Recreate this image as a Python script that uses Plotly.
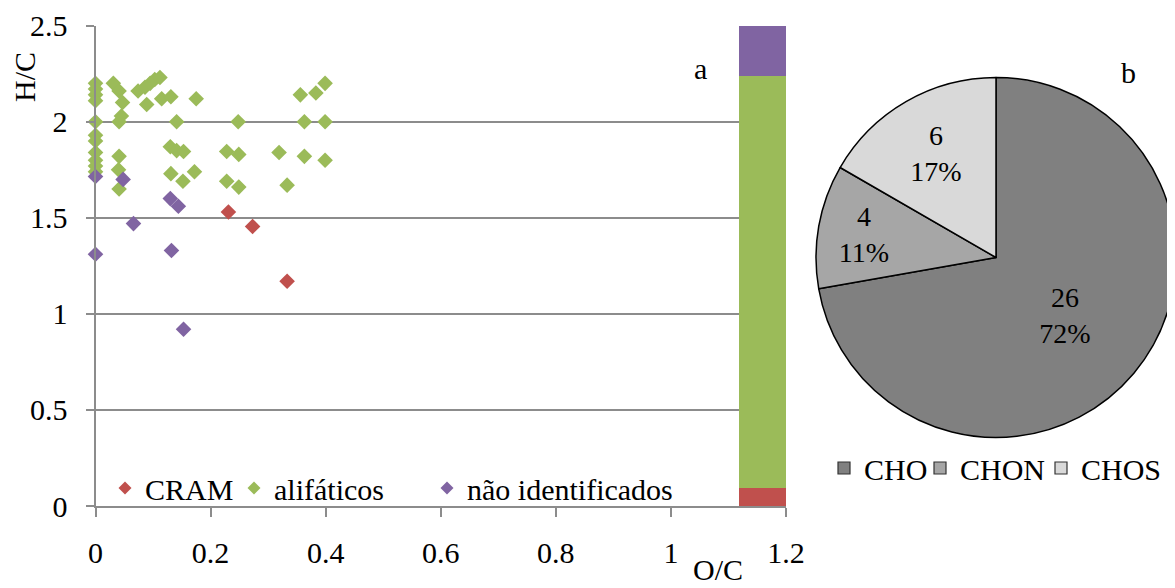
import plotly.graph_objects as go

# ---- data ----
cram_x = [0.231, 0.273, 0.333]
cram_y = [1.53, 1.455, 1.17]

ali_x = [0, 0, 0, 0, 0, 0, 0, 0, 0, 0, 0,
         0.031, 0.041, 0.047, 0.045, 0.041, 0.041, 0.040, 0.041,
         0.074, 0.086, 0.095, 0.103, 0.112, 0.089, 0.115, 0.131, 0.175,
         0.141, 0.248, 0.356, 0.383, 0.399, 0.363, 0.399,
         0.130, 0.141, 0.153, 0.228, 0.249, 0.319, 0.363, 0.399,
         0.131, 0.172, 0.152, 0.228, 0.249, 0.333]
ali_y = [2.20, 2.17, 2.14, 2.11, 2.00, 1.93, 1.90, 1.84, 1.80, 1.77, 1.74,
         2.20, 2.16, 2.10, 2.03, 2.00, 1.82, 1.75, 1.65,
         2.16, 2.18, 2.20, 2.22, 2.23, 2.09, 2.12, 2.13, 2.12,
         2.00, 2.00, 2.14, 2.15, 2.20, 2.00, 2.00,
         1.87, 1.85, 1.845, 1.845, 1.83, 1.84, 1.82, 1.80,
         1.73, 1.74, 1.69, 1.69, 1.66, 1.67]

ni_x = [0, 0.048, 0.130, 0.144, 0.066, 0, 0.132, 0.153]
ni_y = [1.715, 1.70, 1.60, 1.56, 1.47, 1.31, 1.33, 0.92]

series_names = ["CRAM", "alifáticos", "não identificados"]
series_colors = ["#C0504D", "#9BBB59", "#8064A2"]
bar_x = 1.159
bar_values = [0.095, 2.145, 0.26]

pie_labels = ["CHO", "CHON", "CHOS"]
pie_values = [26, 4, 6]
pie_colors = ["#808080", "#A6A6A6", "#D9D9D9"]

x_ticks = [0, 0.2, 0.4, 0.6, 0.8, 1, 1.2]
y_ticks = [0, 0.5, 1, 1.5, 2, 2.5]

FONT = "Liberation Serif"
FS = 30
GRID = "#8C8C8C"

W, H = 1175, 588
OFF = 8  # page body margin


def px(p):
    return (p - OFF) / W


def py(p):
    return 1 - (p - OFF) / H


fig = go.Figure()

# stacked bar at the right of panel a
for name, col, v in zip(series_names, series_colors, bar_values):
    fig.add_trace(go.Bar(x=[bar_x], y=[v], width=0.082, marker=dict(color=col, line=dict(width=0)),
                         showlegend=False, hoverinfo="skip"))

# scatter points, each series with its own legend box
sc_legends = ["legend", "legend3", "legend4"]
sc_legend_left = [105, 234, 427]
for xs, ys, name, col, lid in zip([cram_x, ali_x, ni_x], [cram_y, ali_y, ni_y], series_names,
                                  series_colors, sc_legends):
    fig.add_trace(go.Scatter(x=xs, y=ys, mode="markers", name=name, showlegend=False, cliponaxis=False,
                             marker=dict(symbol="diamond", size=12, color=col, line=dict(width=0))))
    fig.add_trace(go.Scatter(x=[None], y=[None], mode="markers", name=name, showlegend=True,
                             legend=lid,
                             marker=dict(symbol="diamond", size=10, color=col, line=dict(width=0))))

fig.update_layout(barmode="stack")

# pie
fig.add_trace(go.Pie(labels=pie_labels, values=pie_values, sort=False, direction="clockwise", rotation=0,
                     marker=dict(colors=pie_colors, line=dict(color="black", width=1.5)),
                     texttemplate="%{value}<br>%{percent:.0%}", textposition="inside",
                     insidetextorientation="horizontal",
                     textfont=dict(family=FONT, size=28, color="black"),
                     domain=dict(x=[px(816), px(1176)], y=[py(438), py(77)]),
                     showlegend=False, hoverinfo="skip"))

# pie legend entries (square swatches)
pie_legends = ["legend2", "legend5", "legend6"]
pie_legend_left = [824, 920, 1041]
for lab, col, lid in zip(pie_labels, pie_colors, pie_legends):
    fig.add_trace(go.Scatter(x=[None], y=[None], mode="markers", name=lab, showlegend=True, legend=lid,
                             marker=dict(symbol="square", size=12, color=col,
                                         line=dict(color="#333333", width=1.2))))

leg_common = dict(orientation="h", yanchor="middle", xanchor="left",
                  font=dict(family=FONT, size=FS, color="black"),
                  bgcolor="rgba(0,0,0,0)", traceorder="normal")

layout_legends = {}
for lid, lx in zip(sc_legends, sc_legend_left):
    layout_legends[lid] = dict(x=px(lx), y=py(488), **leg_common)
for lid, lx in zip(pie_legends, pie_legend_left):
    layout_legends[lid] = dict(x=px(lx), y=py(468), **leg_common)

fig.update_layout(
    width=W, height=H,
    margin=dict(l=0, r=0, t=0, b=0, autoexpand=False),
    paper_bgcolor="white", plot_bgcolor="white",
    font=dict(family=FONT, size=FS, color="black"),
    xaxis=dict(domain=[px(95.5), px(786)], range=[0, 1.2], tickvals=x_ticks,
               ticktext=[f"{v:g}" for v in x_ticks], automargin=False,
               showgrid=False, zeroline=False, showline=True, linecolor=GRID, linewidth=2,
               ticks="outside", ticklen=9, tickwidth=2, tickcolor=GRID,
               ticklabelstandoff=10, tickfont=dict(family=FONT, size=FS)),
    yaxis=dict(domain=[py(506), py(25.7)], range=[0, 2.5], tickvals=y_ticks,
               ticktext=[f"{v:g}" for v in y_ticks], automargin=False,
               showgrid=True, gridcolor=GRID, gridwidth=2, zeroline=False,
               showline=True, linecolor=GRID, linewidth=2,
               ticks="outside", ticklen=8, tickwidth=2, tickcolor=GRID,
               ticklabelstandoff=12, tickfont=dict(family=FONT, size=FS)),
    annotations=[
        dict(text="H/C", x=px(25), y=py(77), xref="paper", yref="paper", showarrow=False,
             textangle=-90, xanchor="center", yanchor="middle", font=dict(family=FONT, size=FS)),
        dict(text="O/C", x=px(718), y=py(588), xref="paper", yref="paper", showarrow=False,
             xanchor="center", yanchor="bottom", font=dict(family=FONT, size=FS)),
        dict(text="a", x=px(700), y=py(68), xref="paper", yref="paper", showarrow=False,
             xanchor="center", yanchor="middle", font=dict(family=FONT, size=FS)),
        dict(text="b", x=px(1128), y=py(72), xref="paper", yref="paper", showarrow=False,
             xanchor="center", yanchor="middle", font=dict(family=FONT, size=FS)),
    ],
    **layout_legends,
)

fig.write_html("out.html")
